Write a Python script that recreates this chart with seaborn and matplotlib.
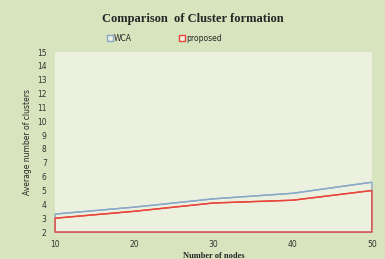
import numpy as np
import pandas as pd
import matplotlib
matplotlib.use('Agg')
import matplotlib.pyplot as plt
import seaborn as sns
from matplotlib.lines import Line2D

nodes = [10, 20, 30, 40, 50]
wca = [3.3, 3.8, 4.4, 4.8, 5.6]
proposed = [3.0, 3.5, 4.1, 4.3, 5.0]
y_ticks = list(range(2, 16))

sns.set_style('white')
plt.rcParams['font.family'] = ['DejaVu Sans']

df = pd.DataFrame({'nodes': nodes * 2,
                   'value': wca + proposed,
                   'series': ['WCA'] * 5 + ['proposed'] * 5})

fig = plt.figure(figsize=(3.85, 2.59), dpi=100)
fig.patch.set_facecolor('#d7e4bd')
ax = fig.add_axes([0.143, 0.104, 0.823, 0.695])
ax.set_facecolor('#ebf1de')

blue = '#8aa8c8'
red = '#e8453c'
sns.lineplot(data=df, x='nodes', y='value', hue='series',
             palette={'WCA': blue, 'proposed': red}, linewidth=1.0,
             legend=False, ax=ax)
ax.fill_between(nodes, 2, wca, facecolor='none', edgecolor=blue,
                linewidth=1.0, clip_on=False)
ax.fill_between(nodes, 2, proposed, facecolor='none', edgecolor=red,
                linewidth=1.0, clip_on=False)

ax.set_xlim(10, 50)
ax.set_ylim(2, 15)
ax.set_xticks(nodes)
ax.set_yticks(y_ticks)
ax.tick_params(labelsize=5.5, length=0, pad=6, colors='#333333')
for s in ax.spines.values():
    s.set_visible(False)

ax.set_xlabel('Number of nodes', fontsize=6, fontweight='bold',
              family='Liberation Serif', labelpad=2)
ax.set_ylabel('Average number of clusters', fontsize=5.5, labelpad=4)

fig.text(0.5, 0.925, 'Comparison  of Cluster formation', ha='center', va='center',
         fontsize=9, fontweight='bold', family='Liberation Serif')

handles = [Line2D([], [], marker='s', linestyle='none', markersize=4,
                  markerfacecolor='#ebf1de', markeredgecolor=blue, markeredgewidth=1),
           Line2D([], [], marker='s', linestyle='none', markersize=4,
                  markerfacecolor='#ebf1de', markeredgecolor=red, markeredgewidth=1)]
fig.legend(handles, ['WCA', 'proposed'], loc='center left',
           bbox_to_anchor=(0.26, 0.853), ncol=2, frameon=False,
           fontsize=5.5, handletextpad=0.1, columnspacing=6.2, handlelength=0.8)

fig.savefig('out.png', dpi=100, facecolor=fig.get_facecolor())
